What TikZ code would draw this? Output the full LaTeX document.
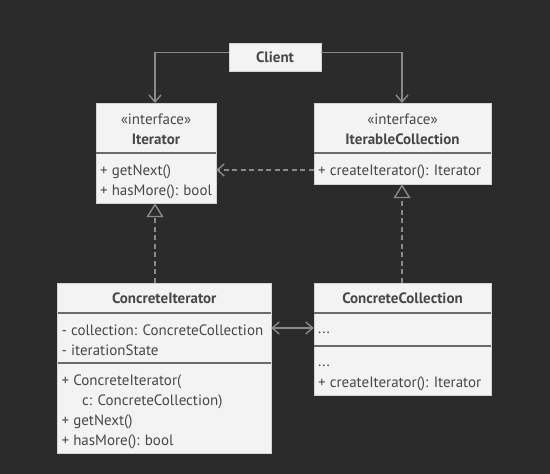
\documentclass[tikz,border=0pt]{standalone}
\usepackage{fontspec}
\setmainfont{PT Sans}
\usetikzlibrary{arrows.meta}
\definecolor{bg}{HTML}{2B2B2B}
\definecolor{boxfill}{HTML}{F3F3F3}
\definecolor{boxline}{HTML}{D4D4D4}
\definecolor{sepline}{HTML}{6A6A6A}
\definecolor{txt}{HTML}{474747}
\definecolor{conn}{HTML}{8A8A8A}
\begin{document}
\begin{tikzpicture}[x=1pt,y=-1pt,
  umlbox/.style={draw=boxline,fill=boxfill,line width=0.8pt,inner sep=0pt,minimum width=#1},
  lbl/.style={anchor=base west,inner sep=0pt,text=txt,font=\fontsize{15}{17}\selectfont},
  ttl/.style={anchor=base,inner sep=0pt,text=txt,font=\fontsize{15}{17}\selectfont\bfseries},
  stereo/.style={anchor=base,inner sep=0pt,text=txt,font=\fontsize{15}{17}\selectfont},
  sep/.style={draw=sepline,line width=1.6pt},
  assoc/.style={draw=conn,line width=1.4pt,-{Straight Barb[length=7pt,width=12pt]}},
  depend/.style={draw=conn,line width=1.4pt,dash pattern=on 5pt off 3.5pt,-{Straight Barb[length=7pt,width=12pt]}},
  realize/.style={draw=conn,line width=1.4pt,dash pattern=on 5pt off 3.5pt,-{Triangle[open,length=14pt,width=17pt,fill=bg]}},
  both/.style={draw=conn,line width=1.4pt,{Straight Barb[length=7pt,width=12pt]}-{Straight Barb[length=7pt,width=12pt]}}
]
\fill[bg] (0,0) rectangle (550,474);
\useasboundingbox (0,0) rectangle (550,474);

% Client
\draw[umlbox] (229,43.5) rectangle (321,71.5);
\node[inner sep=0pt,minimum width=92pt,minimum height=28pt] (client) at (275,57.5) {};
\node[ttl] (clientT) at (275,62.5) {Client};

% Iterator
\draw[umlbox] (96,103) rectangle (216,203);
\draw[sep] (96,153) -- (216,153);
\node[inner sep=0pt,minimum width=120pt,minimum height=100pt] (iter) at (156,153) {};
\node[stereo] (iterS) at (156,124) {«interface»};
\node[ttl] (iterT) at (156,144.5) {Iterator};
\node[lbl] (iterM1) at (100,175) {+ getNext()};
\node[lbl] (iterM2) at (100,195) {+ hasMore(): bool};

% IterableCollection
\draw[umlbox] (314,103) rectangle (491,184);
\draw[sep] (314,153) -- (491,153);
\node[inner sep=0pt,minimum width=177pt,minimum height=81pt] (icoll) at (402.5,143.5) {};
\node[stereo] (icollS) at (402.5,124) {«interface»};
\node[ttl] (icollT) at (402.5,144.5) {IterableCollection};
\node[lbl] (icollM1) at (318,175) {+ createIterator(): Iterator};

% ConcreteIterator
\draw[umlbox] (57.5,283) rectangle (271,453);
\draw[sep] (57.5,313) -- (271,313);
\draw[sep] (57.5,363) -- (271,363);
\node[inner sep=0pt,minimum width=213.5pt,minimum height=170pt] (citer) at (164.25,368) {};
\node[ttl] (citerT) at (164.25,303.5) {ConcreteIterator};
\node[lbl] (citerA1) at (61.5,335) {- collection: ConcreteCollection};
\node[lbl] (citerA2) at (61.5,355) {- iterationState};
\node[lbl] (citerM1) at (61.5,385) {+ ConcreteIterator(};
\node[lbl] (citerM2) at (82,405) {c: ConcreteCollection)};
\node[lbl] (citerM3) at (61.5,425) {+ getNext()};
\node[lbl] (citerM4) at (61.5,445) {+ hasMore(): bool};

% ConcreteCollection
\draw[umlbox] (314,283) rectangle (491,395);
\draw[sep] (314,313) -- (491,313);
\draw[sep] (314,346) -- (491,346);
\node[inner sep=0pt,minimum width=177pt,minimum height=112pt] (ccoll) at (402.5,339) {};
\node[ttl] (ccollT) at (402.5,303.5) {ConcreteCollection};
\node[lbl] (ccollA1) at (318,333.5) {...};
\node[lbl] (ccollM1) at (318,366.5) {...};
\node[lbl] (ccollM2) at (318,387.5) {+ createIterator(): Iterator};

% connectors
\coordinate (iterTop) at (155,103);
\coordinate (icollTop) at (402,103);
\draw[assoc] (client.west |- 0,52.5) -| (iterTop);
\draw[assoc] (client.east |- 0,52.5) -| (icollTop);
\draw[depend] (icoll.west |- 0,170) -- (iter.east |- 0,170);
\draw[realize] (citer.north -| 155,0) -- (iter.south -| 155,0);
\draw[realize] (ccoll.north -| 402,0) -- (icoll.south -| 402,0);
\draw[both] (citer.east |- 0,328) -- (ccoll.west |- 0,328);
\end{tikzpicture}
\end{document}
